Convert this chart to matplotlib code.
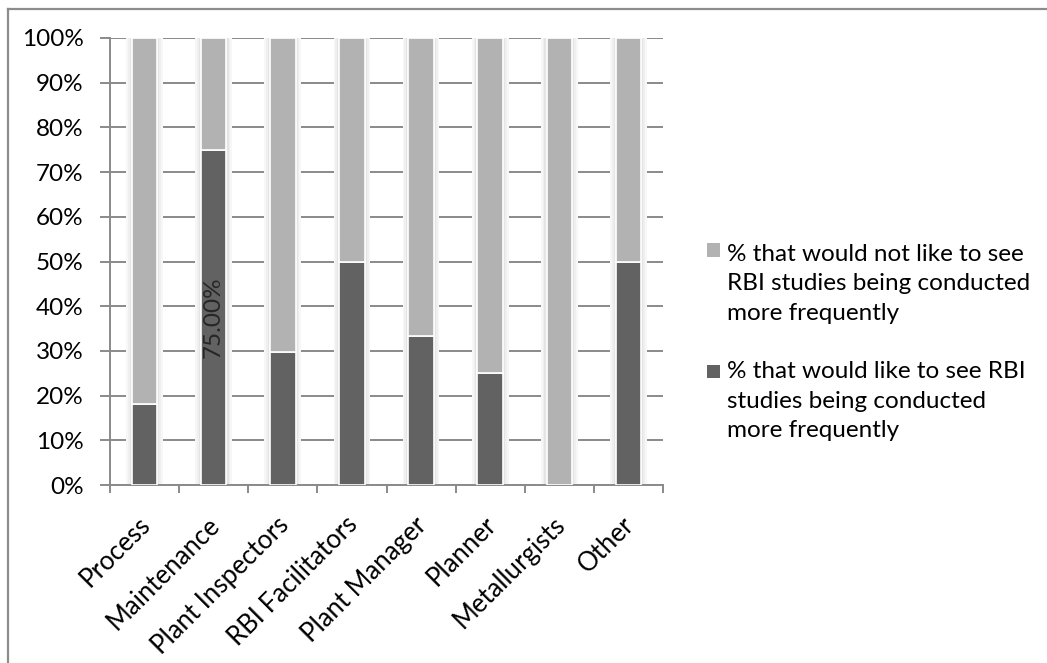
import matplotlib
matplotlib.use("Agg")
import matplotlib.pyplot as plt
from matplotlib.patches import Rectangle
from matplotlib.lines import Line2D
from matplotlib.ticker import MultipleLocator, FuncFormatter
import matplotlib.transforms as mtransforms
import numpy as np

# Survey results: share of respondents per role (percent)
categories = ["Process", "Maintenance", "Plant Inspectors", "RBI Facilitators",
              "Plant Manager", "Planner", "Metallurgists", "Other"]
would_like = [18.18, 75.0, 29.7, 50.0, 33.33, 25.0, 0.0, 50.0]
would_not_like = [100 - v for v in would_like]

series_labels = [
    "% that would not like to see\nRBI studies being conducted\nmore frequently",
    "% that would like to see RBI\nstudies being conducted\nmore frequently",
]
value_label = "75.00%"
value_label_category = "Maintenance"

LIGHT = "#b2b2b2"
DARK = "#626262"
GRID = "#8a8a8a"
FONT = "Lato"
FS = 17.5

plt.rcParams["font.family"] = [FONT, "DejaVu Sans"]

W, H = 1047, 663
fig = plt.figure(figsize=(W / 100, H / 100), dpi=100)
fig.patch.set_facecolor("white")

# outer chart frame (top and left edges)
fig.add_artist(Line2D([8 / W, 8 / W], [0, 1 - 8.5 / H], transform=fig.transFigure,
                      color="#8c8c8c", lw=1.6))
fig.add_artist(Line2D([8 / W, 1], [1 - 8.5 / H, 1 - 8.5 / H], transform=fig.transFigure,
                      color="#8c8c8c", lw=1.6))

left, right, bottom, top = 110 / W, 663 / W, 1 - 485 / H, 1 - 38 / H
ax = fig.add_axes([left, bottom, right - left, top - bottom])

x = np.arange(len(categories))
bw = 0.37

# soft shadow around each bar
for extra, col in [(0.16, "#f7f7f7"), (0.11, "#efefef"), (0.06, "#e4e4e4")]:
    ax.bar(x, [100] * len(x), width=bw + extra, color=col, zorder=2, linewidth=0)

ax.bar(x, would_like, width=bw, color=DARK, edgecolor="white", linewidth=1.2, zorder=3,
       label=series_labels[1])
ax.bar(x, would_not_like, width=bw, bottom=would_like, color=LIGHT, edgecolor="white",
       linewidth=1.2, zorder=3, label=series_labels[0])

# value label inside the Maintenance bar
i = categories.index(value_label_category)
ax.text(x[i], would_like[i] / 2, value_label, rotation=90, ha="center", va="center",
        fontsize=FS, color="#262626", zorder=5)

ax.set_xlim(-0.5, len(categories) - 0.5)
ax.set_ylim(0, 100)
ax.yaxis.set_major_locator(MultipleLocator(10))
ax.yaxis.set_major_formatter(FuncFormatter(lambda v, p: f"{v:.0f}%"))
ax.yaxis.grid(True, color=GRID, lw=1.4, zorder=1)
ax.set_axisbelow(True)

for s in ["top", "right"]:
    ax.spines[s].set_visible(False)
for s in ["left", "bottom"]:
    ax.spines[s].set_color(GRID)
    ax.spines[s].set_linewidth(1.4)

ax.tick_params(axis="y", length=7, width=1.4, color=GRID, pad=12, labelsize=FS,
               labelcolor="black")
ax.set_xticks(np.arange(len(categories) + 1) - 0.5)
ax.set_xticklabels([])
ax.tick_params(axis="x", length=6, width=1.4, color=GRID)

# rotated category labels
offset = mtransforms.ScaledTranslation(2 / 100, -36 / 100, fig.dpi_scale_trans)
for xi, name in zip(x, categories):
    ax.text(xi, 0, name, rotation=45, ha="right", va="center", rotation_mode="anchor",
            fontsize=18.5, transform=ax.get_xaxis_transform() + offset)

# legend drawn on the figure
legend_items = [(LIGHT, series_labels[0], 250, 284), (DARK, series_labels[1], 371, 401)]
for col, txt, ysq, yblock in legend_items:
    fig.add_artist(Rectangle((707 / W, 1 - (ysq + 6.5) / H), 13 / W, 13 / H,
                             transform=fig.transFigure, facecolor=col, edgecolor="none"))
    fig.text(727 / W, 1 - yblock / H, txt, ha="left", va="center", fontsize=FS,
             linespacing=1.5)

fig.savefig("out.png", dpi=100, facecolor="white")
